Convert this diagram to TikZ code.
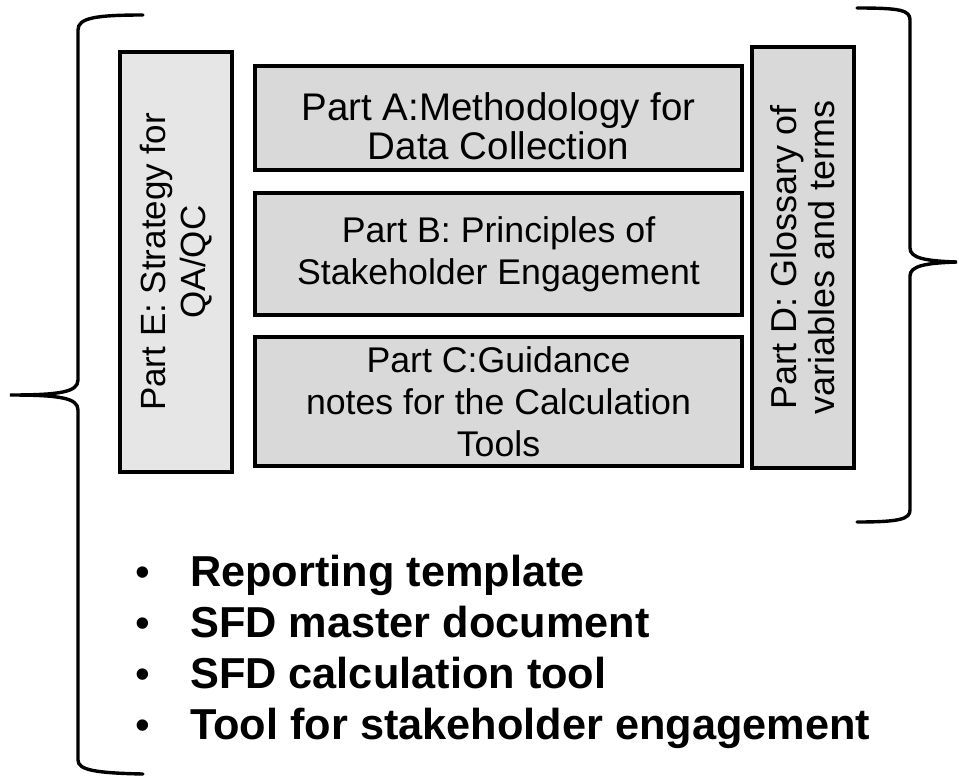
\documentclass[tikz,border=0pt]{standalone}
\usepackage{fontspec}
\setmainfont{Liberation Sans}
\usepackage{xcolor}
\definecolor{partgray}{RGB}{217,217,217}
\definecolor{sidegray}{RGB}{230,230,230}
\tikzset{
  part/.style={draw=black, line width=3.5pt, fill=partgray, inner sep=0pt, align=center},
  sidepart/.style={part, rotate=90},
  bracket/.style={line width=3.4pt, line cap=round},
  listitem/.style={anchor=base west, inner sep=0pt, font=\fontsize{43.3}{50}\selectfont\bfseries}
}

\begin{document}
\begin{tikzpicture}[x=1pt, y=-1pt]
  \useasboundingbox (0,0) rectangle (959,777);

  \node[sidepart, fill=sidegray, minimum width=420pt, minimum height=112pt,
        font=\fontsize{35}{40}\selectfont] (partE) at (176,262)
        {Part E: Strategy for\\QA/QC};
  \node[part, minimum width=487pt, minimum height=104pt,
        font=\fontsize{38.5}{39}\selectfont] (partA) at (498.5,118)
        {\rule{0pt}{44pt}Part A:Methodology for\\Data Collection};
  \node[part, minimum width=487pt, minimum height=122pt,
        font=\fontsize{35.7}{42}\selectfont] (partB) at (498.5,254)
        {Part B: Principles of\\Stakeholder Engagement};
  \node[part, minimum width=487pt, minimum height=129pt,
        font=\fontsize{35.7}{42}\selectfont] (partC) at (498.5,401.5)
        {Part C:Guidance\\notes for the Calculation\\Tools};
  \node[sidepart, minimum width=421pt, minimum height=102pt,
        font=\fontsize{36}{38}\selectfont] (partD) at (803,257.5)
        {Part D: Glossary of\\variables and terms};

  \draw[bracket] (143,15) .. controls (95,15) and (78,18) .. (78,30) -- (78,380)
    .. controls (78,392) and (60,395) .. (10,395)
    .. controls (60,395) and (78,398) .. (78,410) -- (78,760)
    .. controls (78,770) and (95,773) .. (143,774);
  \draw[bracket] (857,8) .. controls (900,8) and (910,10) .. (910,20) -- (910,248)
    .. controls (910,258) and (925,261) .. (957,262)
    .. controls (925,263) and (910,266) .. (910,276) -- (910,510)
    .. controls (910,519) and (900,522) .. (857,522);

  \foreach \txt [count=\i] in {Reporting template, SFD master document,
      SFD calculation tool, Tool for stakeholder engagement} {
    \node[listitem] (item\i) at (190,535+51*\i) {\txt};
    \node[anchor=base, inner sep=0pt, font=\fontsize{42}{50}\selectfont] (dot\i)
      at (143,535+51*\i) {•};
  }
\end{tikzpicture}
\end{document}
